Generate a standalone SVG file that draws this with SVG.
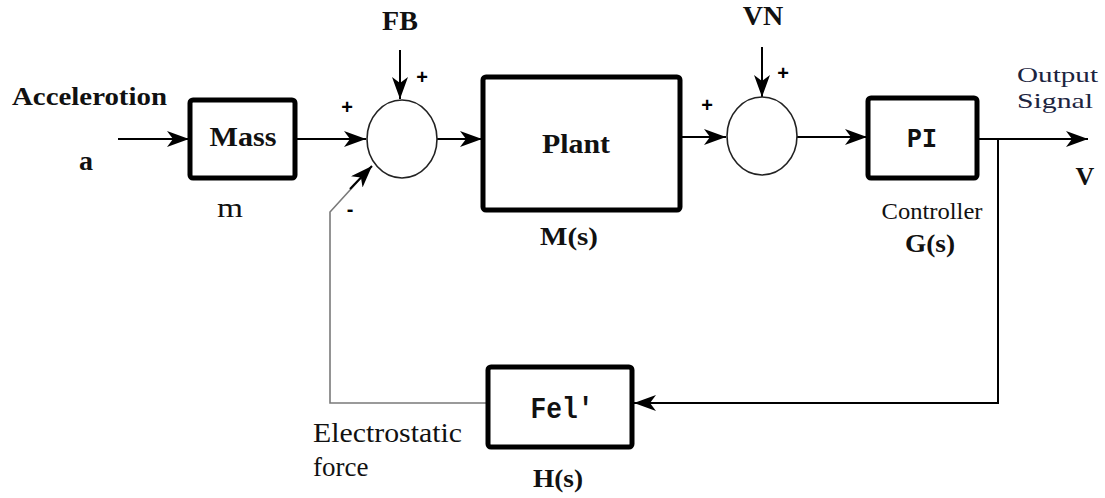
<svg xmlns="http://www.w3.org/2000/svg" width="1105" height="498" viewBox="0 0 1105 498">
<style>
.box{fill:#fff;stroke:#000;stroke-width:5;stroke-linejoin:round}
.sum{fill:#fff;stroke:#222;stroke-width:1.6}
.ln{fill:none;stroke:#000;stroke-width:2}
.fb{fill:none;stroke:#7a7a7a;stroke-width:1.6}
.tb{font-family:'Liberation Serif','Times New Roman',Tinos,serif;font-weight:bold;fill:#111}
.tr{font-family:'Liberation Serif','Times New Roman',Tinos,serif;font-weight:normal;fill:#111}
.tm{font-family:'Liberation Mono','Courier New',Cousine,monospace;font-weight:bold;fill:#111}
.sg{font-family:'Liberation Sans',Arial,sans-serif;font-weight:bold;fill:#000;font-size:20px}
.nv{fill:#1c2440}
</style>
<defs>
<marker id="ah" markerWidth="24" markerHeight="18" refX="22" refY="8" orient="auto" markerUnits="userSpaceOnUse">
<path d="M0,0 L22,8 L0,16 L6,8 Z" fill="#000"/>
</marker>
</defs>
<rect width="1105" height="498" fill="#fff"/>

<g id="connectors">
<line class="ln" x1="118" y1="139" x2="189" y2="139" marker-end="url(#ah)"/>
<line class="ln" x1="296" y1="139" x2="366" y2="139" marker-end="url(#ah)"/>
<line class="ln" x1="400" y1="50" x2="400" y2="99" marker-end="url(#ah)"/>
<line class="ln" x1="437" y1="139" x2="482" y2="139" marker-end="url(#ah)"/>
<line class="ln" x1="681" y1="137" x2="726" y2="137" marker-end="url(#ah)"/>
<line class="ln" x1="762" y1="47" x2="762" y2="97" marker-end="url(#ah)"/>
<line class="ln" x1="797" y1="137" x2="867" y2="137" marker-end="url(#ah)"/>
<line class="ln" x1="978" y1="139" x2="1088" y2="139" marker-end="url(#ah)"/>
<polyline class="ln" points="998,139 998,403 634,403" marker-end="url(#ah)"/>
<polyline class="fb" points="487,403 330,403 330,212 371,167"/>
<line class="ln" x1="350" y1="189" x2="372" y2="166" marker-end="url(#ah)"/>
</g>

<g id="mass">
<rect class="box" x="190" y="100" width="105" height="78" rx="3"/>
<text class="tb" x="243" y="146" font-size="28" text-anchor="middle" textLength="67" lengthAdjust="spacingAndGlyphs">Mass</text>
</g>
<g id="sum1">
<ellipse class="sum" cx="402" cy="139" rx="35" ry="39"/>
</g>
<g id="plant">
<rect class="box" x="483" y="77" width="197" height="133" rx="3"/>
<text class="tb" x="576" y="153" font-size="28" text-anchor="middle" textLength="68" lengthAdjust="spacingAndGlyphs">Plant</text>
</g>
<g id="sum2">
<ellipse class="sum" cx="762" cy="136" rx="35" ry="39"/>
</g>
<g id="pi">
<rect class="box" x="868" y="98" width="109" height="80" rx="3"/>
<text class="tm" x="922" y="147" font-size="28" text-anchor="middle" textLength="30" lengthAdjust="spacingAndGlyphs">PI</text>
</g>
<g id="fel">
<rect class="box" x="488" y="367" width="144" height="80" rx="3"/>
<text class="tm" x="562" y="418" font-size="30" text-anchor="middle" textLength="63" lengthAdjust="spacingAndGlyphs">Fel'</text>
</g>

<g id="labels">
<text class="tb" x="12" y="105" font-size="26" textLength="155" lengthAdjust="spacingAndGlyphs">Accelerotion</text>
<text class="tb" x="86" y="170" font-size="28" text-anchor="middle">a</text>
<text class="tr" x="230" y="217" font-size="28" text-anchor="middle" textLength="26" lengthAdjust="spacingAndGlyphs">m</text>
<text class="tb" x="400" y="30" font-size="28" text-anchor="middle">FB</text>
<text class="tb" x="763" y="25" font-size="28" text-anchor="middle">VN</text>
<text class="sg" x="422" y="84" text-anchor="middle">+</text>
<text class="sg" x="347" y="114" text-anchor="middle">+</text>
<text class="sg" x="350" y="216" text-anchor="middle">-</text>
<text class="sg" x="783" y="80" text-anchor="middle">+</text>
<text class="sg" x="707" y="112" text-anchor="middle">+</text>
<text class="tb" x="569" y="245" font-size="26" text-anchor="middle" textLength="58" lengthAdjust="spacingAndGlyphs">M(s)</text>
<text class="tr" x="932" y="219" font-size="24" text-anchor="middle" textLength="101" lengthAdjust="spacingAndGlyphs">Controller</text>
<text class="tb" x="930" y="252" font-size="26" text-anchor="middle" textLength="50" lengthAdjust="spacingAndGlyphs">G(s)</text>
<text class="tr nv" x="1017" y="82" font-size="22" textLength="81" lengthAdjust="spacingAndGlyphs">Output</text>
<text class="tr nv" x="1017" y="108" font-size="22" textLength="76" lengthAdjust="spacingAndGlyphs">Signal</text>
<text class="tb" x="1085" y="185" font-size="26" text-anchor="middle">V</text>
<text class="tr" x="313" y="442" font-size="27" textLength="149" lengthAdjust="spacingAndGlyphs">Electrostatic</text>
<text class="tr" x="313" y="476" font-size="27">force</text>
<text class="tb" x="558" y="487" font-size="26" text-anchor="middle" textLength="50" lengthAdjust="spacingAndGlyphs">H(s)</text>
</g>
</svg>
